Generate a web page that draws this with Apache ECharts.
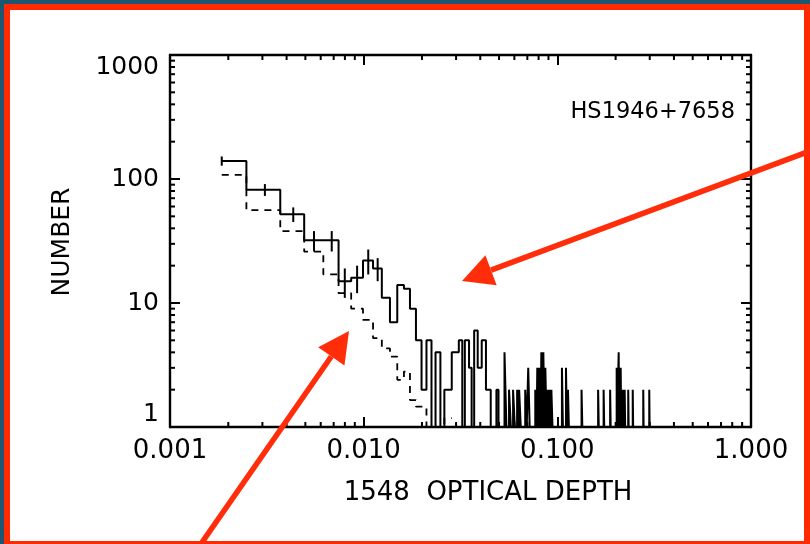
<!DOCTYPE html>
<html><head><meta charset="utf-8">
<script src="https://cdn.jsdelivr.net/npm/echarts@6/dist/echarts.min.js"></script>
<style>
html,body{margin:0;padding:0;width:810px;height:544px;overflow:hidden;background:#1c5670;}
#frame{position:absolute;left:4px;top:4px;width:806px;height:543px;box-sizing:border-box;border:6px solid #ff2a00;background:#fff;}
#chart{position:absolute;left:0;top:0;width:810px;height:544px;}
</style></head>
<body><div id="frame"></div><div id="chart"></div>
<script>
// ---- data ----
const xTickLabels = ['0.001', '0.010', '0.100', '1.000'];
const yTickLabels = ['1', '10', '100', '1000'];

// contiguous part of the solid histogram: bin edges (optical depth) and counts
const solidEdges = [0.00185, 0.00248, 0.00371, 0.00493, 0.00619, 0.00742, 0.00862, 0.00992, 0.01118, 0.01241,
  0.01367, 0.01491, 0.01614, 0.01734, 0.01862, 0.0199, 0.0211, 0.0224, 0.0235, 0.0249,
  0.0261, 0.0285, 0.031, 0.0323, 0.0333, 0.035, 0.0361, 0.0372, 0.0388, 0.0407, 0.0428, 0.0453];
const solidCounts = [140, 82, 52, 32, 32, 15, 16, 22, 19, 11,
  7, 14, 13, 9, 5, 2, 5, 1, 4, 1,
  2, 4, 5, 1, 5, 3, 1, 6, 3, 5, 2];

// isolated narrow bins of the solid histogram (centre optical depth, count)
const spikeBinWidth = 0.00123;
const spikeTau = [0.04908, 0.05397, 0.05693, 0.05970, 0.06261, 0.06411, 0.06888, 0.07136, 0.07755, 0.07942,
  0.08133, 0.08330, 0.08528, 0.08734, 0.08945, 0.09158, 0.09378, 0.10624, 0.11143, 0.11411,
  0.13397, 0.16302, 0.17399, 0.18795, 0.20310, 0.20798, 0.21301, 0.21814, 0.22336, 0.23287,
  0.24570, 0.27834, 0.29891];
const spikeCounts = [2, 4, 2, 2, 2, 2, 2, 3, 2, 3,
  3, 4, 4, 3, 2, 2, 2, 3, 3, 2,
  2, 2, 2, 2, 3, 4, 3, 2, 2, 2,
  2, 2, 2];

// dashed histogram
const dashEdges = [0.00185, 0.00248, 0.00371, 0.00493, 0.00619, 0.00742, 0.00862, 0.00992, 0.01118, 0.01241,
  0.01367, 0.01491, 0.01614, 0.01734, 0.01862, 0.0211, 0.0261, 0.0285];
const dashCounts = [108, 56, 38, 26, 17, 12, 9, 7.3, 5.2, 4.3, 3.7, 2.4, 2.8, 1.65, 1.46, 1, 1.18];

// error bars on the solid histogram
const errTau = [0.00185, 0.00309, 0.00433, 0.00554, 0.00684, 0.00799, 0.00925, 0.01056, 0.01181];
const errCounts = [140, 82, 52, 32, 32, 15, 16, 22, 19];
const errSize = [12, 9, 7, 6, 6, 4, 4, 5, 4];

// minor tick multipliers
const minorFactors = [2, 3, 4, 5, 6, 7, 8, 9];
const xDecades = [0.001, 0.01, 0.1];
const yDecades = [1, 10, 100];

// ---- build step polylines ----
function stepLine(edges, counts) {
  const pts = [];
  for (let i = 0; i < counts.length; i++) {
    pts.push([edges[i], counts[i]]);
    pts.push([edges[i + 1], counts[i]]);
  }
  return pts;
}
const solidPts = stepLine(solidEdges, solidCounts);
solidPts.push([solidEdges[solidEdges.length - 1], 1]);
for (let i = 0; i < spikeTau.length; i++) {
  const l = spikeTau[i] - spikeBinWidth / 2, r = spikeTau[i] + spikeBinWidth / 2;
  solidPts.push([l, 1], [l, spikeCounts[i]], [r, spikeCounts[i]], [r, 1]);
}
const dashPts = stepLine(dashEdges, dashCounts);

const errData = errTau.map((t, i) => [t, errCounts[i], errSize[i]]);
const xMinor = [], yMinor = [];
xDecades.forEach(d => minorFactors.forEach(f => xMinor.push([f * d, 1])));
yDecades.forEach(d => minorFactors.forEach(f => yMinor.push([0.001, f * d])));

const FONT = 'DejaVu Sans';
const chart = echarts.init(document.getElementById('chart'), null, {renderer: 'canvas'});

const axisCommonX = {
  type: 'log', logBase: 10, min: 0.001, max: 1,
  axisLine: {show: true, lineStyle: {color: '#000', width: 2.4}},
  axisTick: {show: true, inside: true, length: 10, lineStyle: {color: '#000', width: 2}},
  splitLine: {show: false}
};
const axisCommonY = {
  type: 'log', logBase: 10, min: 1, max: 1000,
  axisLine: {show: true, lineStyle: {color: '#000', width: 2.4}},
  axisTick: {show: true, inside: true, length: 10, lineStyle: {color: '#000', width: 2}},
  splitLine: {show: false}
};

function xLabel(v) {
  const e = Math.round(Math.log10(v)) + 3;
  return xTickLabels[e] !== undefined ? xTickLabels[e] : '';
}
function yLabel(v) {
  const e = Math.round(Math.log10(v));
  return yTickLabels[e] !== undefined ? yTickLabels[e] : '';
}

function arrow(tail, tip, headLen, headHalf) {
  const dx = tail[0] - tip[0], dy = tail[1] - tip[1];
  const L = Math.hypot(dx, dy), ux = dx / L, uy = dy / L;
  const bx = tip[0] + ux * headLen, by = tip[1] + uy * headLen;
  const px = -uy, py = ux;
  return [
    {type: 'line', z: 100, shape: {x1: tail[0], y1: tail[1], x2: bx, y2: by},
      style: {stroke: '#ff2d0a', lineWidth: 5.5}},
    {type: 'polygon', z: 100, shape: {points: [tip, [bx + px * headHalf, by + py * headHalf], [bx - px * headHalf, by - py * headHalf]]},
      style: {fill: '#ff2d0a'}}
  ];
}

const option = {
  animation: false,
  backgroundColor: 'transparent',
  grid: {left: 170, top: 55, right: 59, bottom: 117, containLabel: false, outerBoundsMode: 'none'},
  xAxis: [
    Object.assign({}, axisCommonX, {position: 'bottom',
      axisLabel: {show: true, formatter: xLabel, color: '#000', fontFamily: FONT, fontSize: 26, margin: 11}}),
    Object.assign({}, axisCommonX, {position: 'top', axisLabel: {show: false}})
  ],
  yAxis: [
    Object.assign({}, axisCommonY, {position: 'left',
      axisLabel: {show: true, formatter: yLabel, color: '#000', fontFamily: FONT, fontSize: 25, margin: 11,
        verticalAlignMinLabel: 'bottom', verticalAlignMaxLabel: 'top'}}),
    Object.assign({}, axisCommonY, {position: 'right', axisLabel: {show: false}})
  ],
  series: [
    {type: 'line', data: solidPts, showSymbol: false, symbol: 'none', clip: false,
      lineStyle: {color: '#000', width: 2}, z: 5},
    {type: 'line', data: dashPts, showSymbol: false, symbol: 'none', clip: false,
      lineStyle: {color: '#000', width: 1.8, type: [7, 6]}, z: 5},
    {type: 'custom', data: errData, clip: false, z: 6,
      renderItem: function (params, api) {
        const x = api.value(0), n = api.value(1), e = api.value(2);
        const a = api.coord([x, n + e]), b = api.coord([x, n - e]);
        return {type: 'line', shape: {x1: a[0], y1: a[1], x2: b[0], y2: b[1]},
          style: {stroke: '#000', lineWidth: 2}};
      }},
    {type: 'custom', data: xMinor, clip: false, z: 6,
      renderItem: function (params, api) {
        const cs = params.coordSys;
        const p = api.coord([api.value(0), 1]);
        const yb = cs.y + cs.height, yt = cs.y;
        return {type: 'group', children: [
          {type: 'line', shape: {x1: p[0], y1: yb, x2: p[0], y2: yb - 5}, style: {stroke: '#000', lineWidth: 2}},
          {type: 'line', shape: {x1: p[0], y1: yt, x2: p[0], y2: yt + 5}, style: {stroke: '#000', lineWidth: 2}}
        ]};
      }},
    {type: 'custom', data: yMinor, clip: false, z: 6,
      renderItem: function (params, api) {
        const cs = params.coordSys;
        const p = api.coord([0.001, api.value(1)]);
        const xl = cs.x, xr = cs.x + cs.width;
        return {type: 'group', children: [
          {type: 'line', shape: {x1: xl, y1: p[1], x2: xl + 5, y2: p[1]}, style: {stroke: '#000', lineWidth: 2}},
          {type: 'line', shape: {x1: xr, y1: p[1], x2: xr - 5, y2: p[1]}, style: {stroke: '#000', lineWidth: 2}}
        ]};
      }}
  ],
  graphic: [
    {type: 'text', x: 62, y: 242, rotation: Math.PI / 2, z: 50,
      style: {text: 'NUMBER', font: '25px "DejaVu Sans"', fill: '#000', textAlign: 'center', textVerticalAlign: 'middle'}},
    {type: 'text', x: 488, y: 493, z: 50,
      style: {text: '1548  OPTICAL DEPTH', font: '26px "DejaVu Sans"', fill: '#000', textAlign: 'center', textVerticalAlign: 'middle'}},
    {type: 'text', x: 735, y: 112, z: 50,
      style: {text: 'HS1946+7658', font: '22.5px "DejaVu Sans"', fill: '#000', textAlign: 'right', textVerticalAlign: 'middle'}}
  ].concat(arrow([818, 148], [462, 281], 31, 16), arrow([196, 551], [349, 331], 31, 16))
};
chart.setOption(option);
</script></body></html>
